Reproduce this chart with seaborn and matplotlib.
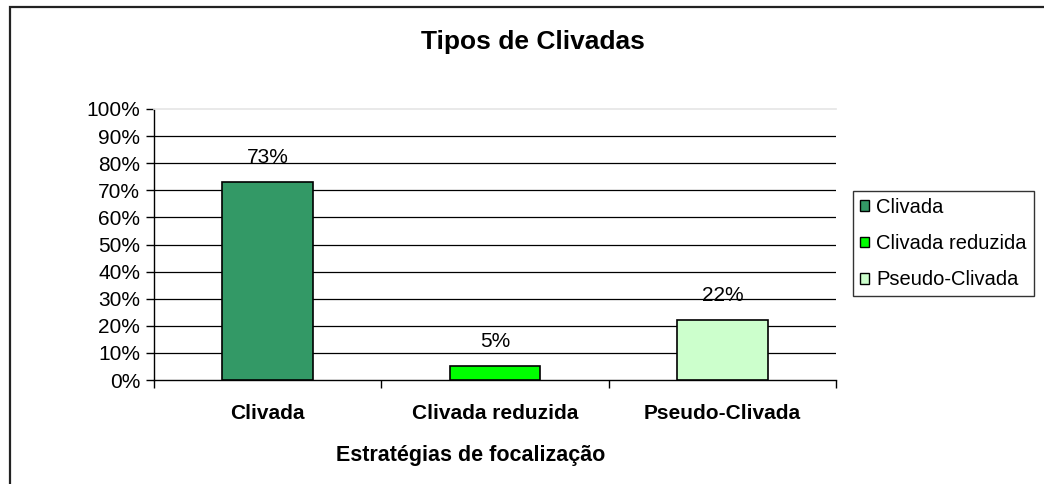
import pandas as pd
import numpy as np
import matplotlib
matplotlib.use("Agg")
import matplotlib.pyplot as plt
import matplotlib.patches as mpatches
import seaborn as sns

# data
categories = ["Clivada", "Clivada reduzida", "Pseudo-Clivada"]
values = [73, 5, 22]
colors = ["#339966", "#00FF00", "#CCFFCC"]
y_ticks = list(range(0, 101, 10))
y_tick_labels = [f"{t}%" for t in y_ticks]

sns.set_theme(style="white")
plt.rcParams["font.family"] = ["Liberation Sans", "DejaVu Sans"]
plt.rcParams["text.color"] = "black"
plt.rcParams["xtick.color"] = "black"
plt.rcParams["ytick.color"] = "black"
plt.rcParams["axes.labelcolor"] = "black"

df = pd.DataFrame({"categoria": categories, "valor": values})

W, H = 1044, 484
fig = plt.figure(figsize=(W / 100, H / 100), dpi=100)
fig.patch.set_facecolor("white")

# outer chart frame (only left and top edges visible in the crop)
fig.add_artist(mpatches.Rectangle((9.5 / W, -0.05), 1.2, 1 - 6.5 / H + 0.05,
                                  transform=fig.transFigure, fill=False,
                                  edgecolor="#222222", linewidth=1.6))

ax = fig.add_axes([154 / W, 1 - 380 / H, (836 - 154) / W, (380 - 109) / H])
ax.set_facecolor("white")

sns.barplot(data=df, x="categoria", y="valor", hue="categoria",
            palette=colors, saturation=1, width=0.4, edgecolor="black",
            linewidth=1.2, legend=False, ax=ax, zorder=3)

ax.set_ylim(0, 100)
ax.set_xlim(-0.5, 2.5)
ax.set_yticks(y_ticks)
ax.set_yticklabels(y_tick_labels, fontsize=15)
for t in y_ticks[1:-1]:
    ax.axhline(t, color="black", linewidth=0.9, zorder=1)

ax.set_xticks(range(len(categories)))
ax.set_xticklabels(categories, fontsize=15, fontweight="bold")
ax.tick_params(axis="x", length=0, pad=17)
ax.set_xticks([-0.5, 0.5, 1.5, 2.5], minor=True)
ax.tick_params(axis="x", which="minor", length=6, width=1, color="black",
               direction="out", bottom=True)
ax.tick_params(axis="y", length=6, width=1, color="black", direction="out",
               left=True, pad=4)

for s in ["left", "bottom"]:
    ax.spines[s].set_color("black")
    ax.spines[s].set_linewidth(1)
ax.spines["top"].set_color("#e6e6e6")
ax.spines["right"].set_visible(False)

for c in ax.containers:
    ax.bar_label(c, labels=[f"{v:.0f}%" for v in c.datavalues],
                 padding=11, fontsize=15, color="black")

ax.set_xlabel("")
ax.set_ylabel("")

fig.text(533 / W, 1 - 42 / H, "Tipos de Clivadas", ha="center", va="center",
         fontsize=19, fontweight="bold")
fig.text(471 / W, 1 - 456 / H, "Estratégias de focalização", ha="center",
         va="center", fontsize=15.5, fontweight="bold")

handles = [mpatches.Patch(facecolor=c, edgecolor="black", linewidth=1)
           for c in colors]
leg = fig.legend(handles, categories, loc="upper left",
                 bbox_to_anchor=(853 / W, 1 - 191 / H), fontsize=14.5,
                 frameon=True, fancybox=False, handlelength=0.45,
                 handleheight=0.45, handletextpad=0.35, labelspacing=0.85,
                 borderpad=0.35, borderaxespad=0)
leg.get_frame().set_edgecolor("black")
leg.get_frame().set_linewidth(1)

fig.savefig("out.png", dpi=100, facecolor="white")
